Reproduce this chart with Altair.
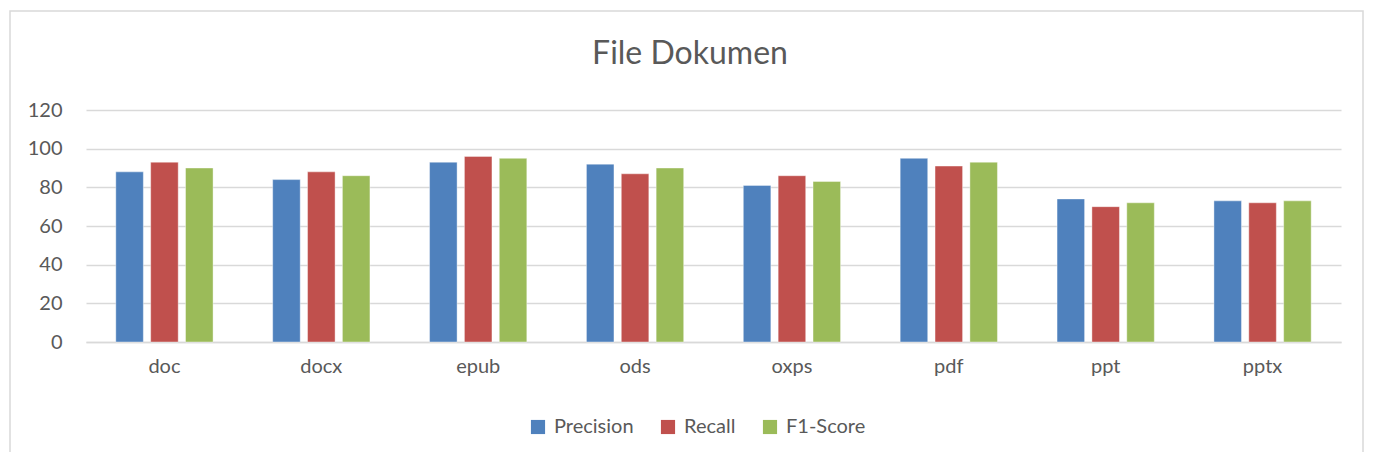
import altair as alt
import pandas as pd

categories = ["doc", "docx", "epub", "ods", "oxps", "pdf", "ppt", "pptx"]
series = ["Precision", "Recall", "F1-Score"]
precision = [88, 84, 93, 92, 81, 95, 74, 73]
recall = [93, 88, 96, 87, 86, 91, 70, 72]
f1 = [90, 86, 95, 90, 83, 93, 72, 73]
colors = ["#4F81BD", "#C0504D", "#9BBB59"]
y_ticks = [0, 20, 40, 60, 80, 100, 120]
chart_title = "File Dokumen"

rows = []
for i, c in enumerate(categories):
    for s, vals in zip(series, [precision, recall, f1]):
        rows.append({"Kategori": c, "Metrik": s, "Nilai": vals[i]})
df = pd.DataFrame(rows)

FONT = "Lato"
TXT = "#595959"
GRID = "#D9D9D9"

bars = alt.Chart(df).mark_bar(stroke="white", strokeWidth=0.8, strokeOpacity=0.5).encode(
    x=alt.X("Kategori:N", sort=categories, title=None,
            scale=alt.Scale(paddingInner=0.38, paddingOuter=0.19),
            axis=alt.Axis(labelAngle=0, labelFont=FONT, labelFontSize=20, labelColor=TXT,
                          labelPadding=14, ticks=False, domainColor=GRID, domainWidth=1.4)),
    xOffset=alt.XOffset("Metrik:N", sort=series,
                        scale=alt.Scale(paddingInner=0.21, paddingOuter=0)),
    y=alt.Y("Nilai:Q", title=None,
            scale=alt.Scale(domain=[0, 120], nice=False),
            axis=alt.Axis(values=y_ticks, labelFont=FONT, labelFontSize=20, labelColor=TXT,
                          labelPadding=24, ticks=False, domain=False,
                          gridColor=GRID, gridWidth=1.4)),
    color=alt.Color("Metrik:N", sort=series,
                    scale=alt.Scale(domain=series, range=colors),
                    legend=alt.Legend(title=None, orient="none", direction="horizontal",
                                      legendX=442, legendY=307,
                                      symbolType="square", symbolSize=200,
                                      symbolStrokeWidth=0,
                                      labelFont=FONT, labelFontSize=20, labelColor=TXT,
                                      labelOffset=6, columnPadding=24)),
)

frame = alt.Chart(pd.DataFrame({"k": [0]})).mark_rect(
    fill=None, stroke=GRID, strokeWidth=1.5
).encode(
    x=alt.value(-76), x2=alt.value(1277), y=alt.value(-99), y2=alt.value(400)
)

title = alt.Chart(pd.DataFrame({"t": [chart_title]})).mark_text(
    font=FONT, fontSize=32, color=TXT, align="center", baseline="middle"
).encode(
    text="t:N", x=alt.value(604), y=alt.value(-56)
)

chart = alt.layer(frame, bars, title).properties(
    width=1255, height=232,
    autosize=alt.AutoSizeParams(type="none"),
    padding={"left": 78, "top": 102, "right": 24, "bottom": 110},
).configure_view(stroke=None)

chart.save("out.html", embed_options={"renderer": "svg", "actions": False})
